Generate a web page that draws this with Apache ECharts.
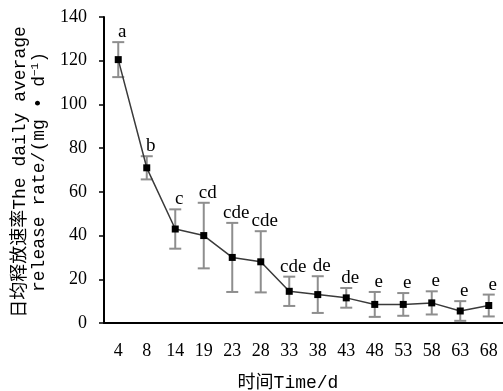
<!DOCTYPE html>
<html>
<head>
<meta charset="utf-8">
<script src="https://cdn.jsdelivr.net/npm/echarts@6/dist/echarts.min.js"></script>
<style>
  html, body { margin: 0; padding: 0; background: #fff; }
  #chart { width: 503px; height: 391px; }
</style>
</head>
<body>
<div id="chart"></div>
<script>
const days = ['4', '8', '14', '19', '23', '28', '33', '38', '43', '48', '53', '58', '63', '68'];
const rate = [120.5, 71, 43, 40, 30, 28, 14.5, 13, 11.5, 8.5, 8.5, 9.2, 5.5, 8];
const errs = [8, 5.3, 9, 15, 15.8, 14, 6.7, 8.4, 4.5, 5.7, 5.2, 5.3, 4.5, 5];
const letters = ['a', 'b', 'c', 'cd', 'cde', 'cde', 'cde', 'de', 'de', 'e', 'e', 'e', 'e', 'e'];
const yTicks = { min: 0, max: 140, interval: 20 };

// SimSun-like look: serif digits, monospaced latin in the axis names
const SERIF = '"Liberation Serif", "Noto Sans CJK SC", serif';
const MONO = '"Liberation Mono", "Noto Sans CJK SC", monospace';

const errData = rate.map((v, i) => [i, v, errs[i]]);

const chart = echarts.init(document.getElementById('chart'));
chart.setOption({
  backgroundColor: '#fff',
  animation: false,
  grid: { left: 104, top: 17, bottom: 68, width: 402 },
  xAxis: {
    type: 'category',
    data: days,
    boundaryGap: true,
    axisLine: { lineStyle: { color: '#000', width: 2 } },
    axisTick: { show: false },
    axisLabel: { color: '#000', fontSize: 18, fontFamily: SERIF, margin: 19 },
    splitLine: { show: false }
  },
  yAxis: {
    type: 'value',
    min: yTicks.min,
    max: yTicks.max,
    interval: yTicks.interval,
    axisLine: { show: true, lineStyle: { color: '#000', width: 2 } },
    axisTick: { show: true, inside: false, length: 5, lineStyle: { color: '#000', width: 1.5 } },
    axisLabel: { color: '#000', fontSize: 18, fontFamily: SERIF, margin: 17 },
    splitLine: { show: false }
  },
  graphic: [
    {
      type: 'text',
      x: 20, y: 172,
      rotation: Math.PI / 2,
      style: {
        text: '日均释放速率The daily average',
        font: '18px ' + MONO,
        fill: '#000',
        align: 'center',
        verticalAlign: 'middle'
      }
    },
    {
      type: 'text',
      x: 39, y: 172,
      rotation: Math.PI / 2,
      style: {
        text: '{n|release rate/(mg • d}{s|−1}{n|)}',
        fill: '#000',
        align: 'center',
        verticalAlign: 'middle',
        rich: {
          n: { fontSize: 18, fontFamily: MONO, fill: '#000' },
          s: { fontSize: 11, fontFamily: MONO, fill: '#000', verticalAlign: 'top', padding: [0, 0, 8, 0] }
        }
      }
    },
    {
      type: 'text',
      x: 288, y: 383,
      style: {
        text: '时间Time/d',
        font: '18px ' + MONO,
        fill: '#000',
        align: 'center',
        verticalAlign: 'middle'
      }
    }
  ],
  series: [
    {
      type: 'custom',
      z: 1,
      data: errData,
      renderItem(params, api) {
        const i = api.value(0);
        const m = api.value(1);
        const e = api.value(2);
        const top = api.coord([i, m + e]);
        const bot = api.coord([i, m - e]);
        const hw = 6;
        const st = { stroke: '#8e8e8e', lineWidth: 2 };
        return {
          type: 'group',
          children: [
            { type: 'line', shape: { x1: top[0], y1: top[1], x2: bot[0], y2: bot[1] }, style: st },
            { type: 'line', shape: { x1: top[0] - hw, y1: top[1], x2: top[0] + hw, y2: top[1] }, style: st },
            { type: 'line', shape: { x1: bot[0] - hw, y1: bot[1], x2: bot[0] + hw, y2: bot[1] }, style: st },
            {
              type: 'text',
              x: top[0] + 4,
              y: top[1] - 10,
              style: {
                text: letters[params.dataIndex],
                font: '19px ' + SERIF,
                fill: '#000',
                align: 'center',
                verticalAlign: 'middle'
              }
            }
          ]
        };
      }
    },
    {
      type: 'line',
      z: 3,
      data: rate,
      symbol: 'rect',
      symbolSize: 7,
      itemStyle: { color: '#000' },
      lineStyle: { color: '#3a3a3a', width: 1.5 }
    }
  ]
});
</script>
</body>
</html>
